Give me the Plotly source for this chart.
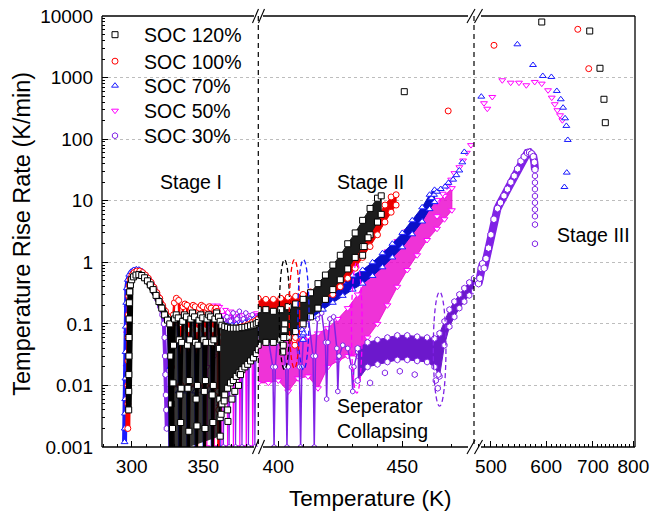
import math
import plotly.graph_objects as go

# ------------------------------------------------------------------ DATA
SERIES = ["SOC 120%", "SOC 100%", "SOC 70%", "SOC 50%", "SOC 30%"]

ytick_vals = [0.001, 0.01, 0.1, 1, 10, 100, 1000, 10000]
ytick_text = ["0.001", "0.01", "0.1", "1", "10", "100", "1000", "10000"]
x1_ticks = [300, 350]
x2_ticks = [400, 450]
x3_ticks = [500, 600, 700, 800]

# ---- SOC 120 % (black squares)
k_hump_T = [297.9, 297.95, 298.0, 298.05, 298.1, 298.2, 298.35, 298.6, 299.1, 300.0, 301.3, 303.0, 305.0,
            307.0, 309.0, 311.0, 313.0, 315.0, 317.0, 319.0, 321.0, 323.0, 325.0, 326.6, 327.3, 327.7, 328.0]
k_hump_v = [0.004, 0.008, 0.015, 0.03, 0.06, 0.12, 0.22, 0.33, 0.43, 0.52, 0.58, 0.62, 0.63,
            0.61, 0.56, 0.5, 0.43, 0.36, 0.29, 0.23, 0.18, 0.14, 0.115, 0.1, 0.03, 0.005, 0.0008]
k_arch_T = [328.0, 328.5, 328.8, 329.2, 329.9, 331.1, 332.5, 333.2, 333.6,
            334.0, 334.2, 334.5, 334.9, 335.6, 336.8, 338.2, 338.9, 339.3,
            339.7, 339.9, 340.2, 340.6, 341.3, 342.5, 343.9, 344.6, 345.0,
            345.4, 345.6, 345.9, 346.3, 347.0, 348.2, 349.6, 350.3, 350.7,
            351.0, 351.2, 351.5, 351.9, 352.6, 353.8, 355.1, 355.8, 356.2,
            356.5, 356.7, 357.0, 357.4, 358.1, 359.3, 360.6, 361.2, 361.5,
            361.8]
k_arch_v = [0.0008, 0.002, 0.011, 0.045, 0.12, 0.14, 0.125, 0.055, 0.007,
            0.0008, 0.0025, 0.009, 0.05, 0.11, 0.14, 0.13, 0.045, 0.009,
            0.0008, 0.0018, 0.012, 0.055, 0.12, 0.15, 0.13, 0.05, 0.006,
            0.0008, 0.0022, 0.01, 0.045, 0.115, 0.14, 0.125, 0.055, 0.008,
            0.0008, 0.002, 0.012, 0.05, 0.12, 0.14, 0.13, 0.05, 0.007,
            0.0008, 0.0025, 0.01, 0.055, 0.12, 0.15, 0.13, 0.04, 0.006,
            0.0015]
k_band1_T = [361.8, 363, 365, 367, 369, 371, 373, 375, 377, 379, 381, 383, 385, 387, 388.4]
k_band1_hi = [0.11, 0.095, 0.09, 0.088, 0.085, 0.085, 0.085, 0.085, 0.087, 0.088, 0.09, 0.093, 0.096, 0.1, 0.105]
k_band1_lo = [0.003, 0.005, 0.007, 0.009, 0.011, 0.012, 0.014, 0.016, 0.018, 0.02, 0.022, 0.025, 0.028, 0.033, 0.038]
k_sc1_T = [362.4, 364.6, 367.0, 367.2, 374.6, 376.0, 370.0, 372.0]
k_sc1_v = [0.0034, 0.0056, 0.004, 0.0026, 0.01, 0.015, 0.006, 0.008]
k_band2_T = [391.9, 395, 398, 401, 404, 407, 410, 413, 416, 419, 422, 425, 428, 431, 434, 437, 440, 441.5]
k_band2_hi = [0.17, 0.17, 0.16, 0.17, 0.19, 0.21, 0.25, 0.32, 0.45, 0.62, 0.9, 1.3, 2.0, 3.0, 4.8, 7.5, 11, 12]
k_band2_lo = [0.045, 0.05, 0.05, 0.055, 0.06, 0.075, 0.1, 0.13, 0.18, 0.25, 0.36, 0.52, 0.78, 1.2, 1.8, 2.8, 4.5, 6]
k_dip2_T = [401.8, 402.0, 402.2, 402.4, 402.6]
k_dip2_v = [0.035, 0.045, 0.06, 0.08, 0.1]
k_out2_T = [434.0, 434.6, 436.2, 450.8]
k_out2_v = [1.3, 1.8, 2.5, 590]
k_s3_T = [591.3, 692.7, 716.5, 726.0, 729.2]
k_s3_v = [7990, 5707, 1416, 444, 185]

# ---- SOC 100 % (red circles)
r_hump_T = [297.3, 297.35, 297.4, 297.45, 297.55, 297.7, 297.95, 298.4, 299.1, 300.2, 301.7, 303.6, 305.6,
            307.6, 309.6, 311.6, 313.6, 315.6, 317.6, 319.6, 321.6, 323.6, 325.6, 327.2, 327.8, 328.1]
r_hump_v = [0.002, 0.005, 0.01, 0.025, 0.06, 0.14, 0.28, 0.42, 0.53, 0.62, 0.68, 0.72, 0.72,
            0.68, 0.62, 0.55, 0.47, 0.39, 0.32, 0.26, 0.2, 0.16, 0.13, 0.11, 0.02, 0.0008]
r_arch_T = [328.1, 328.4, 328.7, 329.1, 329.8, 331.2, 332.8, 333.6, 334.0,
            334.2, 334.5, 334.8, 335.2, 335.9, 337.2, 338.6, 339.3, 339.7,
            339.9, 340.2, 340.5, 340.9, 341.6, 342.9, 344.3, 345.0, 345.4,
            345.6, 345.9, 346.2, 346.6, 347.3, 348.6, 349.9, 350.6, 351.0,
            351.2, 351.5, 351.8, 352.2, 352.9, 354.2, 355.5, 356.2, 356.6,
            356.8, 357.0, 357.3, 357.6, 358.1, 358.9, 359.6, 360.1, 360.4,
            360.6]
r_arch_v = [0.0008, 0.01, 0.05, 0.14, 0.22, 0.26, 0.24, 0.1, 0.01,
            0.0008, 0.01, 0.05, 0.12, 0.19, 0.21, 0.2, 0.08, 0.01,
            0.0008, 0.01, 0.05, 0.12, 0.18, 0.2, 0.19, 0.08, 0.01,
            0.0008, 0.01, 0.05, 0.12, 0.18, 0.2, 0.19, 0.08, 0.01,
            0.0008, 0.01, 0.05, 0.12, 0.18, 0.19, 0.18, 0.08, 0.01,
            0.0008, 0.01, 0.05, 0.12, 0.17, 0.18, 0.16, 0.06, 0.008,
            0.0008]
r_band1_T = [360.8, 363, 366, 369, 372, 375, 378, 381, 384, 386.5, 388.4]
r_band1_hi = [0.06, 0.075, 0.08, 0.082, 0.085, 0.088, 0.092, 0.097, 0.105, 0.112, 0.12]
r_band1_lo = [0.004, 0.008, 0.012, 0.016, 0.02, 0.024, 0.028, 0.032, 0.036, 0.04, 0.045]
r_band2_T = [391.9, 395, 398, 401, 404, 407, 410, 413, 416, 419, 422, 425, 428, 431, 434, 437, 440, 443, 445.5, 447.5]
r_band2_hi = [0.26, 0.25, 0.25, 0.26, 0.27, 0.28, 0.3, 0.33, 0.37, 0.44, 0.55, 0.72, 1.0, 1.5, 2.3, 3.5, 5.5, 8.5, 11.5, 12.5]
r_band2_lo = [0.12, 0.12, 0.12, 0.13, 0.14, 0.15, 0.17, 0.19, 0.21, 0.25, 0.3, 0.4, 0.55, 0.8, 1.2, 1.8, 2.8, 4.5, 6.5, 8.5]
r_dip2_T = [406.3, 406.5, 406.7, 406.9]
r_dip2_v = [0.07, 0.055, 0.045, 0.06]
r_out2_T = [468.5]
r_out2_v = [287]
r_s3_T = [505.1, 665.9, 690.4]
r_s3_v = [3342, 6082, 1395]

# ---- SOC 70 % (blue up-triangles)
b_hump_T = [295.0, 295.15, 295.3, 295.45, 295.6, 295.75, 295.9, 296.2, 296.6, 297.3, 298.3, 299.6, 301.4, 303.2,
            305.0, 307.0, 309.0, 311.0, 313.0, 315.0, 317.0, 319.0, 321.0, 323.0, 325.0, 326.4, 327.0, 327.4]
b_hump_v = [0.0012, 0.002, 0.0035, 0.006, 0.013, 0.035, 0.09, 0.22, 0.38, 0.52, 0.63, 0.7, 0.75, 0.77,
            0.76, 0.72, 0.66, 0.58, 0.5, 0.42, 0.34, 0.27, 0.21, 0.16, 0.13, 0.11, 0.02, 0.0008]
b_arch_T = [327.4, 327.7, 328.0, 328.4, 329.1, 330.4, 331.8, 332.5, 332.8,
            333.0, 333.3, 333.6, 334.0, 334.7, 336.0, 337.5, 338.3, 338.6,
            338.8, 339.1, 339.4, 339.8, 340.5, 341.8, 343.2, 344.0, 344.3,
            344.5, 344.8, 345.1, 345.5, 346.2, 347.5, 348.9, 349.7, 350.0,
            350.2, 350.5, 350.8, 351.2, 351.9, 353.2, 354.6, 355.4, 355.7,
            355.9, 356.2, 356.5, 356.9, 357.6, 358.9, 360.3, 361.0, 361.3,
            361.5]
b_arch_v = [0.0008, 0.01, 0.05, 0.1, 0.13, 0.14, 0.13, 0.05, 0.008,
            0.0008, 0.01, 0.05, 0.1, 0.13, 0.14, 0.13, 0.05, 0.008,
            0.0008, 0.01, 0.05, 0.1, 0.13, 0.14, 0.13, 0.05, 0.008,
            0.0008, 0.01, 0.05, 0.1, 0.13, 0.14, 0.13, 0.05, 0.008,
            0.0008, 0.01, 0.05, 0.1, 0.13, 0.14, 0.13, 0.05, 0.008,
            0.0008, 0.01, 0.05, 0.1, 0.13, 0.15, 0.14, 0.05, 0.008,
            0.0008]
b_band1_T = [361.5, 364, 367, 370, 373, 376, 379, 382, 385, 388.4]
b_band1_hi = [0.13, 0.1, 0.095, 0.095, 0.098, 0.1, 0.105, 0.11, 0.118, 0.125]
b_band1_lo = [0.005, 0.01, 0.014, 0.018, 0.022, 0.026, 0.03, 0.035, 0.04, 0.05]
b_band2_T = [391.9, 397, 402, 406, 410, 414, 418, 422, 426, 430, 434, 438, 442, 446, 450, 454, 458, 461, 463]
b_band2_hi = [0.11, 0.115, 0.13, 0.15, 0.175, 0.22, 0.285, 0.375, 0.48, 0.61, 0.75, 1.0, 1.4, 2.0, 3.0, 4.8, 7.8, 12.5, 15]
b_band2_lo = [0.065, 0.07, 0.077, 0.088, 0.104, 0.13, 0.17, 0.22, 0.285, 0.36, 0.45, 0.6, 0.83, 1.2, 1.75, 2.85, 4.6, 7.3, 9.5]
b_dip2_T = [409.4, 409.6, 409.8, 410.0, 410.2]
b_dip2_v = [0.1, 0.08, 0.065, 0.055, 0.07]
b_tri2_T = [461.8, 462.8, 464.0, 465.5, 467.3, 468.6, 470.5, 471.8, 473.0, 474.2, 475.0]
b_tri2_v = [11, 12.5, 14, 15.5, 17, 19.5, 22, 26, 31, 42, 62]
b_s3_T = [484.4, 545.6, 574.5, 593.3, 610.4, 621.4, 629.6, 634.4, 638.6, 641.3, 644.3, 642.2, 637.2]
b_s3_v = [490, 3470, 1601, 1062, 1023, 606, 444, 324, 218, 164, 97, 28.6, 16.7]

# ---- SOC 50 % (magenta down-triangles)
m_hump_T = [296.2, 296.35, 296.5, 296.7, 297.0, 297.5, 298.3, 299.5, 301.0, 303.0, 305.0, 307.0,
            309.0, 311.0, 313.0, 315.0, 317.0, 319.0, 321.0, 323.0, 325.0, 326.2, 326.8, 327.2]
m_hump_v = [0.002, 0.006, 0.02, 0.07, 0.18, 0.33, 0.47, 0.58, 0.65, 0.69, 0.69, 0.66,
            0.61, 0.54, 0.46, 0.38, 0.31, 0.25, 0.19, 0.15, 0.12, 0.1, 0.02, 0.0008]
m_arch_T = [352.5, 353.0, 353.5, 355.0, 356.5, 357.3, 357.6, 358.0, 358.5, 360.0, 361.5, 362.6, 363.0,
            363.4, 364.0, 365.5, 366.6, 367.0, 367.4, 368.0, 369.5, 370.7, 371.0, 371.4, 372.0, 373.5,
            375.1, 375.5, 375.9, 376.5, 378.0, 379.6, 380.0, 380.4, 381.0, 382.5, 384.1, 384.5, 384.9,
            385.5, 387.0, 388.4]
m_arch_v = [0.001, 0.02, 0.12, 0.19, 0.2, 0.05, 0.001, 0.03, 0.14, 0.2, 0.19, 0.04, 0.001,
            0.04, 0.14, 0.17, 0.05, 0.001, 0.04, 0.13, 0.16, 0.05, 0.001, 0.04, 0.12, 0.15,
            0.04, 0.001, 0.04, 0.12, 0.14, 0.04, 0.001, 0.04, 0.12, 0.14, 0.04, 0.001, 0.04,
            0.13, 0.15, 0.14]
m_band2_T = [391.9, 396, 400, 404, 408, 412, 416, 420, 424, 428, 432, 436, 440, 444, 448, 452, 456, 460, 464, 467, 470]
m_band2_hi = [0.06, 0.055, 0.055, 0.055, 0.058, 0.062, 0.07, 0.085, 0.12, 0.18, 0.3, 0.55, 1.0, 1.5, 2.2, 3.2, 4.6, 7.0, 9.5, 12, 16]
m_band2_lo = [0.011, 0.011, 0.012, 0.008, 0.013, 0.014, 0.009, 0.02, 0.025, 0.03, 0.03, 0.06, 0.1, 0.2, 0.4, 0.75, 1.3, 2.3, 3.5, 5.0, 7.0]
m_tri2_T = [464.0, 466.3, 468.0, 469.7, 471.0, 473.0, 474.5, 476.0, 477.7, 464.0]
m_tri2_v = [10.3, 13, 17, 22, 28, 35, 45, 60, 80, 5.6]
m_s3_T = [488.7, 494.1, 502.3, 519.1, 533.7, 548.5, 561.9, 577.7, 591.3, 603.7, 611.1, 617.2, 622.5, 628.1, 632.9]
m_s3_v = [383, 312, 484, 904, 826, 826, 750, 849, 797, 622, 472, 369, 295, 244, 203]

# ---- SOC 30 % (purple hexagons)
p_hump_T = [296.5, 296.7, 296.9, 297.2, 297.7, 298.6, 300.0, 302.0, 304.0, 306.0, 308.0, 310.0, 312.0,
            314.0, 316.0, 318.0, 320.0, 321.5, 322.5, 323.0, 323.3, 323.6, 323.9, 324.2, 324.5]
p_hump_v = [0.002, 0.01, 0.04, 0.13, 0.3, 0.46, 0.58, 0.66, 0.68, 0.66, 0.62, 0.56, 0.48,
            0.4, 0.32, 0.25, 0.19, 0.14, 0.1, 0.06, 0.03, 0.015, 0.007, 0.004, 0.002]
p_blob_T = [325.4, 325.7]
p_blob_v = [0.022, 0.024]
p_arch1_T = [364.0, 364.4, 365.0, 366.5, 367.7, 368.0, 368.4, 369.0, 370.8, 372.2, 372.5, 372.9, 373.5, 375.2,
             376.7, 377.0, 377.4, 378.0, 379.7, 381.2, 381.5, 381.9, 382.5, 384.2, 385.7, 386.0, 386.4, 387.0, 388.4]
p_arch1_v = [0.001, 0.03, 0.1, 0.13, 0.04, 0.001, 0.03, 0.11, 0.15, 0.04, 0.001, 0.03, 0.12, 0.16,
             0.04, 0.001, 0.03, 0.12, 0.15, 0.04, 0.001, 0.03, 0.12, 0.14, 0.04, 0.001, 0.03, 0.12, 0.13]
p_path2_T = [391.9, 394.0, 396.0, 397.8, 398.3, 398.8, 399.5, 401.5, 403.0, 403.5, 404.0, 404.8, 406.8,
             408.5, 409.0, 409.5, 410.3, 412.2, 414.0, 414.5, 415.0, 415.8, 417.5, 419.0, 419.5, 420.0,
             420.8, 422.3, 423.6, 424.0, 424.5, 426.0, 428.0, 429.5, 430.0, 430.5, 432.0]
p_path2_v = [0.05, 0.06, 0.055, 0.02, 0.001, 0.02, 0.05, 0.06, 0.02, 0.001, 0.02, 0.06, 0.07,
             0.02, 0.001, 0.02, 0.09, 0.12, 0.03, 0.001, 0.03, 0.12, 0.15, 0.05, 0.006, 0.05,
             0.12, 0.13, 0.04, 0.008, 0.03, 0.045, 0.04, 0.02, 0.008, 0.02, 0.035]
p_band2_T = [432, 436, 440, 444, 448, 452, 456, 460, 463, 465, 467, 469, 471, 473, 475, 477, 478.9]
p_band2_hi = [0.04, 0.05, 0.055, 0.06, 0.065, 0.065, 0.062, 0.06, 0.058, 0.07, 0.11, 0.17, 0.23, 0.3, 0.38, 0.47, 0.55]
p_band2_lo = [0.012, 0.02, 0.022, 0.024, 0.026, 0.026, 0.025, 0.024, 0.02, 0.014, 0.045, 0.09, 0.13, 0.18, 0.23, 0.29, 0.34]
p_sc2_T = [437.0, 443.0, 449.0, 455.0, 463.5, 464.3, 464.6]
p_sc2_v = [0.011, 0.016, 0.017, 0.015, 0.012, 0.009, 0.015]
p_hump3_T = [478.5, 480.0, 482.0, 484.0, 486.5, 489.0, 492.0, 496.0, 500.0, 505.0, 511.0, 516.0, 522.0,
             528.0, 534.0, 540.0, 546.0, 552.0, 558.0, 564.0, 568.0, 572.0, 575.0, 577.0, 578.2]
p_hump3_v = [0.5, 0.45, 0.55, 0.8, 0.95, 0.8, 1.15, 1.7, 2.8, 5.0, 7.5, 9.3, 12,
             15.4, 20, 25.3, 33, 44, 52, 60, 61, 58, 52, 42, 32]
p_fall3_T = [578.2, 578.2, 578.2, 578.2, 578.2, 578.2, 578.2, 578.2, 578.2]
p_fall3_v = [25.3, 19.7, 15.4, 11.9, 9.3, 7.2, 5.6, 4.1, 2.0]

# dashed ellipses ("separator collapsing" marks), stage II
ell_T0 = [400.4, 404.4, 407.9, 429.5, 462.5]
ell_T1 = [404.6, 408.6, 412.4, 433.8, 467.6]
ell_vlo = [0.018, 0.019, 0.018, 0.0075, 0.0046]
ell_vhi = [1.1, 1.1, 1.1, 1.0, 0.33]
ell_key = ["k", "r", "b", "m", "p"]

# ------------------------------------------------------------------ STYLE / LAYOUT
W, H = 654, 515
PL, PR, PT, PB = 102, 635, 16, 447
FONT = "Liberation Sans, Arial, Helvetica, sans-serif"


def px2p(px):
    return (px - PL) / (PR - PL)


def py2p(py):
    return (PB - py) / (PB - PT)


BR1, BR2 = 258.3, 474.0
D1, D2 = px2p(BR1), px2p(BR2)

COL = {"k": "#000000", "r": "#ff0000", "b": "#1a1aff", "m": "#ff00ff", "p": "#8022e6"}
FILL = {"k": "#1c1c1c", "r": "#e80000", "b": "#0a10c8", "m": "rgba(235,0,205,0.8)", "p": "#6c18cc"}
SYM = {"k": "square", "r": "circle", "b": "triangle-up", "m": "triangle-down", "p": "hexagon"}
LEG = {"k": "legend", "r": "legend2", "b": "legend3", "m": "legend4", "p": "legend5"}

fig = go.Figure()


def mk(key, size=6, solid=False):
    return dict(symbol=SYM[key], size=size, color=COL[key] if solid else "white",
                line=dict(color=COL[key], width=1))


def path(ax, T, v, key, width=2.0, size=6, fillcolor=None):
    assert len(T) == len(v)
    fig.add_trace(go.Scatter(x=T, y=v, xaxis=ax, yaxis="y", mode="lines+markers",
                             line=dict(color=COL[key], width=width), marker=mk(key, size),
                             fill="toself" if fillcolor else "none", fillcolor=fillcolor,
                             showlegend=False, hoverinfo="skip"))


def band(ax, T, hi, lo, key, size=6):
    assert len(T) == len(hi) == len(lo)
    fig.add_trace(go.Scatter(x=list(T) + list(T)[::-1], y=list(hi) + list(lo)[::-1], xaxis=ax, yaxis="y",
                             mode="lines", line=dict(color=FILL[key], width=1), fill="toself",
                             fillcolor=FILL[key], showlegend=False, hoverinfo="skip"))
    fig.add_trace(go.Scatter(x=list(T) + list(T), y=list(hi) + list(lo), xaxis=ax, yaxis="y",
                             mode="markers", marker=mk(key, size), showlegend=False, hoverinfo="skip"))


def points(ax, T, v, key, size=6, name=None, solid=False):
    assert len(T) == len(v)
    fig.add_trace(go.Scatter(x=T, y=v, xaxis=ax, yaxis="y", mode="markers", marker=mk(key, size, solid),
                             name=name if name else "", showlegend=name is not None,
                             legend=LEG[key], hoverinfo="skip"))


# magenta (bottom layer)
path("x", m_hump_T, m_hump_v, "m", width=4)
path("x", m_arch_T, m_arch_v, "m", width=1.2, size=5)
band("x2", m_band2_T, m_band2_hi, m_band2_lo, "m")
points("x2", m_tri2_T, m_tri2_v, "m")
points("x3", m_s3_T, m_s3_v, "m", size=6, name=SERIES[3])

# purple
path("x", p_hump_T, p_hump_v, "p", width=4)
points("x", p_blob_T, p_blob_v, "p", size=8, solid=True)
path("x", p_arch1_T, p_arch1_v, "p", width=1.2, size=5)
path("x2", p_path2_T, p_path2_v, "p", width=1.5, size=5)
band("x2", p_band2_T, p_band2_hi, p_band2_lo, "p")
points("x2", p_sc2_T, p_sc2_v, "p", size=6, name=SERIES[4])
path("x3", p_hump3_T, p_hump3_v, "p", width=8, size=7)
points("x3", p_fall3_T, p_fall3_v, "p")

# blue
path("x", b_hump_T, b_hump_v, "b", width=5, size=6)
path("x", b_arch_T, b_arch_v, "b", width=2)
band("x", b_band1_T, b_band1_hi, b_band1_lo, "b")
band("x2", b_band2_T, b_band2_hi, b_band2_lo, "b")
points("x2", b_dip2_T, b_dip2_v, "b")
points("x2", b_tri2_T, b_tri2_v, "b")
points("x3", b_s3_T, b_s3_v, "b", size=6, name=SERIES[2])

# red
path("x", r_hump_T, r_hump_v, "r", width=5, size=6)
path("x", r_arch_T, r_arch_v, "r", width=2.5)
band("x", r_band1_T, r_band1_hi, r_band1_lo, "r")
band("x2", r_band2_T, r_band2_hi, r_band2_lo, "r")
points("x2", r_dip2_T, r_dip2_v, "r")
points("x2", r_out2_T, r_out2_v, "r")
points("x3", r_s3_T, r_s3_v, "r", size=6, name=SERIES[1])

# black (top layer)
path("x", k_hump_T, k_hump_v, "k", width=6, size=6)
path("x", k_arch_T, k_arch_v, "k", width=2.5, fillcolor="rgba(10,10,10,0.82)")
band("x", k_band1_T, k_band1_hi, k_band1_lo, "k")
points("x", k_sc1_T, k_sc1_v, "k")
band("x2", k_band2_T, k_band2_hi, k_band2_lo, "k")
points("x2", k_dip2_T, k_dip2_v, "k")
points("x2", k_out2_T, k_out2_v, "k")
points("x3", k_s3_T, k_s3_v, "k", size=6, name=SERIES[0])

# ------------------------------------------------------------------ AXES
tickfont = dict(family=FONT, size=19, color="black")
common_x = dict(showgrid=False, zeroline=False, showline=False, ticks="inside", ticklen=6,
                tickwidth=1, tickcolor="black", tickfont=tickfont, anchor="y", tickmode="array",
                automargin=False, ticklabelstandoff=6)

x1_minor = [t for t in range(280, 390, 10) if t not in x1_ticks]
x2_minor = [t for t in range(400, 480, 10) if t not in x2_ticks]
x3_minor = [t for t in range(480, 810, 10) if t not in x3_ticks]
y_minor = [d * 10.0 ** e for e in range(-3, 4) for d in range(2, 10)]

legend_centers = [35, 61.5, 86, 111, 136]
legend_common = dict(xanchor="left", yanchor="middle", bgcolor="rgba(0,0,0,0)",
                     font=dict(family=FONT, size=19.5, color="black"), itemwidth=48)
legends = {}
for i, key in enumerate(["k", "r", "b", "m", "p"]):
    legends[LEG[key]] = dict(x=px2p(86), y=py2p(legend_centers[i]), **legend_common)

fig.update_layout(
    width=W, height=H,
    margin=dict(l=PL, r=W - PR, t=PT, b=H - PB, autoexpand=False),
    paper_bgcolor="white", plot_bgcolor="white",
    font=dict(family=FONT, color="black"),
    xaxis=dict(domain=[0, D1], range=[279.26, 388.41], tickvals=x1_ticks, ticktext=[str(t) for t in x1_ticks],
               minor=dict(tickmode="array", tickvals=x1_minor, ticks="inside", ticklen=3, tickcolor="black"),
               **common_x),
    xaxis2=dict(domain=[D1, D2], range=[391.94, 478.91], tickvals=x2_ticks, ticktext=[str(t) for t in x2_ticks],
                minor=dict(tickmode="array", tickvals=x2_minor, ticks="inside", ticklen=3, tickcolor="black"),
                **common_x),
    xaxis3=dict(domain=[D2, 1], type="log", range=[2.67474, 2.90540], tickvals=x3_ticks,
                ticktext=[str(t) for t in x3_ticks],
                minor=dict(tickmode="array", tickvals=x3_minor, ticks="inside", ticklen=3, tickcolor="black"),
                **common_x),
    yaxis=dict(type="log", range=[-3, 4], tickmode="array", tickvals=ytick_vals, ticktext=ytick_text,
               ticks="inside", ticklen=6, tickwidth=1, tickcolor="black", tickfont=tickfont,
               showgrid=True, gridcolor="#bdbdbd", gridwidth=1, griddash="3px,3px",
               minor=dict(tickmode="array", tickvals=y_minor, ticks="inside", ticklen=3, tickcolor="black",
                          showgrid=False),
               zeroline=False, showline=False, anchor="x", ticklabelstandoff=8, automargin=False),
    showlegend=True,
    **legends,
)

# ------------------------------------------------------------------ SHAPES
shapes = []


def pline(x0, y0, x1, y1, width=1.3, dash="solid", color="black"):
    shapes.append(dict(type="line", xref="paper", yref="paper", x0=px2p(x0), y0=py2p(y0),
                       x1=px2p(x1), y1=py2p(y1), line=dict(color=color, width=width, dash=dash)))


# frame
pline(PL, PT, PL, PB)
pline(PR, PT, PR, PB)
for y in (PT, PB):
    pline(PL, y, 254, y)
    pline(263, y, 468, y)
    pline(481, y, PR, y)
# break slashes
for yc in (PT, PB):
    for xs in (252.5, 258.5):
        pline(xs, yc + 7, xs + 6, yc - 7, width=1.1)
    for xs in (467.0, 474.5):
        pline(xs, yc + 7, xs + 8, yc - 7, width=1.1)
# dashed vertical separators
pline(BR1, PT, BR1, PB, width=1.2, dash="5px,4px")
pline(BR2, PT, BR2, PB, width=1.2, dash="5px,4px")

# ellipses
for i in range(len(ell_T0)):
    shapes.append(dict(type="circle", xref="x2", yref="y", x0=ell_T0[i], x1=ell_T1[i],
                       y0=ell_vlo[i], y1=ell_vhi[i],
                       line=dict(color=COL[ell_key[i]], width=1.3, dash="5px,3px")))

fig.update_layout(shapes=shapes)

# ------------------------------------------------------------------ TEXT
ann_font = dict(family=FONT, size=19.5, color="black")
annotations = [
    dict(text="Stage I", x=px2p(190.7), y=py2p(181.7)),
    dict(text="Stage II", x=px2p(370.5), y=py2p(181.7)),
    dict(text="Stage III", x=px2p(593.7), y=py2p(235.3)),
]
anns = []
for a in annotations:
    anns.append(dict(text=a["text"], x=a["x"], y=a["y"], xref="paper", yref="paper", showarrow=False,
                     xanchor="center", yanchor="middle", font=ann_font))
anns.append(dict(text="Seperator<br>Collapsing", x=px2p(335), y=py2p(418), xref="paper", yref="paper",
                 showarrow=False, xanchor="left", yanchor="middle", align="left", font=ann_font))
anns.append(dict(text="Temperature (K)", x=px2p(370.5), y=py2p(498), xref="paper", yref="paper",
                 showarrow=False, xanchor="center", yanchor="middle",
                 font=dict(family=FONT, size=22.5, color="black")))
anns.append(dict(text="Temperature Rise Rate (K/min)", x=px2p(21.7), y=py2p(234), xref="paper", yref="paper",
                 showarrow=False, xanchor="center", yanchor="middle", textangle=-90,
                 font=dict(family=FONT, size=23.5, color="black")))
fig.update_layout(annotations=anns)

# remove the browser's default 8px body margin so the figure sits at the window origin
fig.write_html("out.html", config={"displayModeBar": False},
               post_script="document.body.style.margin='0px';")
